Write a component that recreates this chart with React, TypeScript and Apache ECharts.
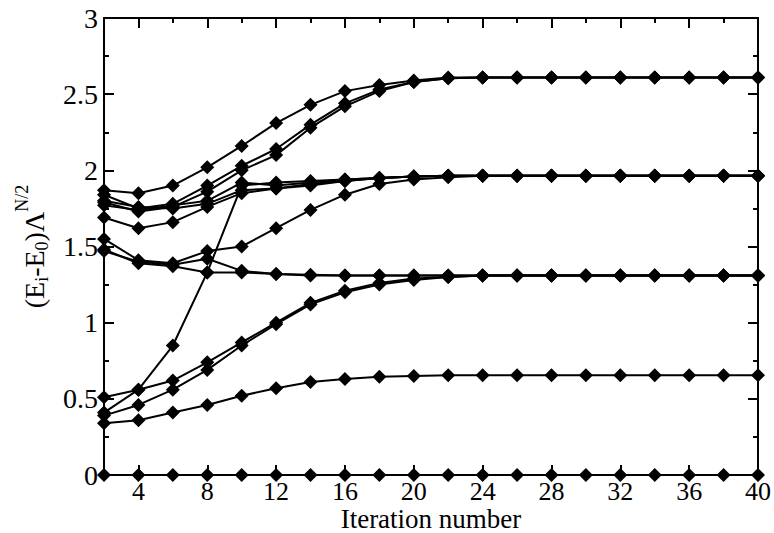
import React, { useEffect, useRef } from 'react';
import * as echarts from 'echarts';

// Iteration numbers N (even iterations only)
const iterations = [2, 4, 6, 8, 10, 12, 14, 16, 18, 20, 22, 24, 26, 28, 30, 32, 34, 36, 38, 40];
const majorXTicks = [4, 8, 12, 16, 20, 24, 28, 32, 36, 40];
const minorXTicks = [6, 10, 14, 18, 22, 26, 30, 34, 38];
const minorXTicksTop = [6, 10, 14, 18, 22, 26, 30, 34, 38];
const majorXTicksTop = [4, 8, 12, 16, 20, 24, 28, 32, 36];

// Rescaled many-particle energies (E_i - E_0) Λ^{N/2}, one array per level
const levelA = [1.87, 1.85, 1.90, 2.02, 2.16, 2.31, 2.43, 2.52, 2.56, 2.59, 2.61, 2.61, 2.61, 2.61, 2.61, 2.61, 2.61, 2.61, 2.61, 2.61];
const levelB = [1.84, 1.75, 1.78, 1.90, 2.03, 2.14, 2.30, 2.44, 2.53, 2.58, 2.605, 2.61, 2.61, 2.61, 2.61, 2.61, 2.61, 2.61, 2.61, 2.61];
const levelC = [1.79, 1.73, 1.76, 1.86, 2.00, 2.10, 2.28, 2.42, 2.52, 2.58, 2.605, 2.61, 2.61, 2.61, 2.61, 2.61, 2.61, 2.61, 2.61, 2.61];
const levelD = [0.41, 0.56, 0.85, 1.33, 1.90, 1.92, 1.93, 1.94, 1.95, 1.96, 1.965, 1.965, 1.965, 1.965, 1.965, 1.965, 1.965, 1.965, 1.965, 1.965];
const levelE = [1.77, 1.74, 1.77, 1.80, 1.92, 1.90, 1.92, 1.94, 1.95, 1.96, 1.965, 1.965, 1.965, 1.965, 1.965, 1.965, 1.965, 1.965, 1.965, 1.965];
const levelF = [1.80, 1.76, 1.75, 1.78, 1.87, 1.88, 1.91, 1.93, 1.95, 1.96, 1.965, 1.965, 1.965, 1.965, 1.965, 1.965, 1.965, 1.965, 1.965, 1.965];
const levelG = [1.69, 1.62, 1.66, 1.76, 1.85, 1.88, 1.90, 1.93, 1.95, 1.96, 1.965, 1.965, 1.965, 1.965, 1.965, 1.965, 1.965, 1.965, 1.965, 1.965];
const levelH = [1.55, 1.41, 1.39, 1.47, 1.50, 1.62, 1.74, 1.84, 1.91, 1.94, 1.955, 1.965, 1.965, 1.965, 1.965, 1.965, 1.965, 1.965, 1.965, 1.965];
const levelI = [1.48, 1.39, 1.37, 1.33, 1.33, 1.32, 1.31, 1.31, 1.31, 1.31, 1.31, 1.31, 1.31, 1.31, 1.31, 1.31, 1.31, 1.31, 1.31, 1.31];
const levelJ = [1.47, 1.40, 1.38, 1.42, 1.34, 1.32, 1.315, 1.31, 1.31, 1.31, 1.31, 1.31, 1.31, 1.31, 1.31, 1.31, 1.31, 1.31, 1.31, 1.31];
const levelK = [0.51, 0.56, 0.62, 0.74, 0.87, 1.00, 1.13, 1.21, 1.26, 1.29, 1.30, 1.31, 1.31, 1.31, 1.31, 1.31, 1.31, 1.31, 1.31, 1.31];
const levelL = [0.39, 0.46, 0.56, 0.69, 0.85, 0.99, 1.12, 1.20, 1.25, 1.28, 1.30, 1.31, 1.31, 1.31, 1.31, 1.31, 1.31, 1.31, 1.31, 1.31];
const levelM = [0.34, 0.36, 0.41, 0.46, 0.52, 0.57, 0.61, 0.63, 0.645, 0.65, 0.655, 0.655, 0.655, 0.655, 0.655, 0.655, 0.655, 0.655, 0.655, 0.655];
const groundState = [0, 0, 0, 0, 0, 0, 0, 0, 0, 0, 0, 0, 0, 0, 0, 0, 0, 0, 0, 0];

const levels = [levelA, levelB, levelC, levelD, levelE, levelF, levelG, levelH, levelI, levelJ, levelK, levelL, levelM, groundState];

const FONT = "'Liberation Serif', 'Times New Roman', 'DejaVu Serif', serif";
const INK = '#000';

export default function App() {
  const ref = useRef<HTMLDivElement>(null);

  useEffect(() => {
    const chart = echarts.init(ref.current as HTMLDivElement, null, { renderer: 'svg' });

    const lineStyle = { color: INK, width: 2 };
    const hiddenLabel = { show: false };

    const xBase = {
      type: 'value',
      min: 2,
      max: 40,
      splitLine: { show: false },
    };
    const yBase = {
      type: 'value',
      min: 0,
      max: 3,
      interval: 0.5,
      splitLine: { show: false },
    };

    const option: any = {
      animation: false,
      backgroundColor: '#fff',
      textStyle: { fontFamily: FONT, color: INK },
      grid: { left: 104, right: 16, top: 18, bottom: 58, outerBoundsMode: 'none' },
      xAxis: [
        {
          ...xBase,
          position: 'bottom',
          axisLine: { show: true, lineStyle },
          axisTick: { show: true, inside: true, length: 10, lineStyle, customValues: majorXTicks },
          axisLabel: {
            show: true,
            customValues: majorXTicks,
            color: INK,
            fontFamily: FONT,
            fontSize: 26,
            lineHeight: 26,
            margin: 3,
          },
          name: 'Iteration number',
          nameLocation: 'middle',
          nameGap: 31,
          nameMoveOverlap: false,
          nameTextStyle: { color: INK, fontFamily: FONT, fontSize: 27, lineHeight: 26 },
        },
        {
          ...xBase,
          position: 'bottom',
          axisLine: { show: false },
          axisTick: { show: true, inside: true, length: 5, lineStyle, customValues: minorXTicks },
          axisLabel: hiddenLabel,
        },
        {
          ...xBase,
          position: 'top',
          axisLine: { show: true, lineStyle },
          axisTick: { show: true, inside: true, length: 10, lineStyle, customValues: majorXTicksTop },
          axisLabel: hiddenLabel,
        },
        {
          ...xBase,
          position: 'top',
          axisLine: { show: false },
          axisTick: { show: true, inside: true, length: 5, lineStyle, customValues: minorXTicksTop },
          axisLabel: hiddenLabel,
        },
      ],
      yAxis: [
        {
          ...yBase,
          position: 'left',
          axisLine: { show: true, lineStyle },
          axisTick: { show: true, inside: true, length: 10, lineStyle },
          minorTick: { show: true, splitNumber: 2, length: 5, lineStyle },
          axisLabel: {
            show: true,
            color: INK,
            fontFamily: FONT,
            fontSize: 28,
            margin: 6,
            formatter: (v: number) => String(v),
          },
          name: '(E{sub|i}-E{sub|0})Λ{sup|N/2}',
          nameLocation: 'middle',
          nameRotate: 90,
          nameGap: 49,
          nameMoveOverlap: false,
          nameTextStyle: {
            color: INK,
            fontFamily: FONT,
            fontSize: 28,
            rich: {
              sub: { fontFamily: FONT, fontSize: 18, color: INK, padding: [16, 0, 0, 0] },
              sup: { fontFamily: FONT, fontSize: 18, color: INK, padding: [0, 0, 24, 0] },
            },
          },
        },
        {
          ...yBase,
          position: 'right',
          axisLine: { show: true, lineStyle },
          axisTick: { show: true, inside: true, length: 10, lineStyle },
          minorTick: { show: true, splitNumber: 2, length: 5, lineStyle },
          axisLabel: hiddenLabel,
        },
      ],
      series: levels.map((values, i) => ({
        name: 'level ' + (i + 1),
        type: 'line',
        xAxisIndex: 0,
        yAxisIndex: 0,
        data: iterations.map((n, k) => [n, values[k]]),
        symbol: 'diamond',
        symbolSize: 14,
        showAllSymbol: true,
        clip: false,
        lineStyle: { color: INK, width: 2 },
        itemStyle: { color: INK },
        emphasis: { disabled: true },
      })),
    };

    chart.setOption(option);
    return () => chart.dispose();
  }, []);

  return (
    <div
      ref={ref}
      style={{ position: 'fixed', left: 0, top: 0, width: 774, height: 533, background: '#fff' }}
    />
  );
}
